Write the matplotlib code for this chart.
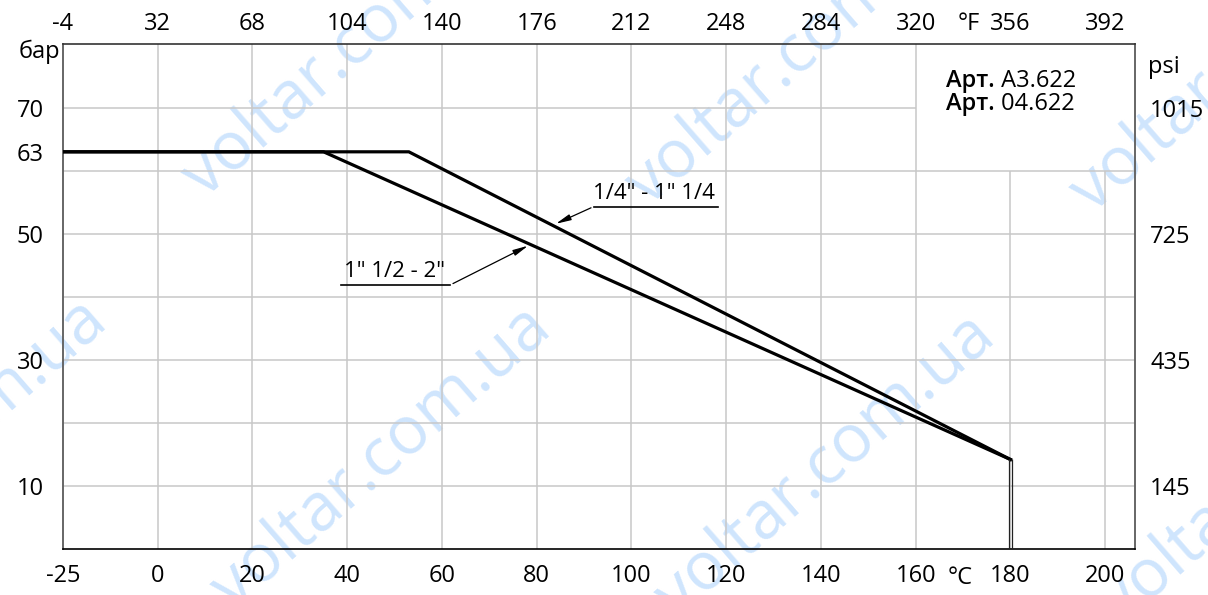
import matplotlib
matplotlib.use("Agg")
import matplotlib.pyplot as plt

plt.rcParams['font.family'] = ['Open Sans', 'DejaVu Sans']

# temperature (°C) vs pressure (bar)
temp_small = [-20, 53, 180]      # 1/4" - 1" 1/4
pres_small = [63, 63, 14.2]
temp_big = [-20, 35, 180]        # 1" 1/2 - 2"
pres_big = [63, 63, 14.2]
end_temp = 180
end_pres = 14.2

x_ticks = [-20, 0, 20, 40, 60, 80, 100, 120, 140, 160, 180, 200]
x_labels = ['-25', '0', '20', '40', '60', '80', '100', '120', '140', '160', '180', '200']
f_labels = ['-4', '32', '68', '104', '140', '176', '212', '248', '284', '320', '356', '392']
y_ticks = [10, 30, 50, 63, 70]
y_labels = ['10', '30', '50', '63', '70']
psi_ticks = [10, 30, 50, 70]
psi_labels = ['145', '435', '725', '1015']
grid_x = [0, 20, 40, 60, 80, 100, 120, 140, 160, 180, 200]
grid_y = [10, 20, 30, 40, 50, 60, 70]

xmin, xmax = -20, 206.3
ymin, ymax = 0, 80.1

fig = plt.figure(figsize=(12.08, 5.95), dpi=100)

# watermark
wm_pos = [(234, 612), (678, 620), (1122, 627), (-210, 605),
          (205, 200), (649, 208), (1093, 215)]
for px, py in wm_pos:
    fig.text(px / 1208, 1 - py / 595, 'voltar.com.ua', fontsize=48, color='#cfe5fd',
             rotation=41, rotation_mode='anchor', ha='left', va='baseline', zorder=-5)

ax = fig.add_axes([63 / 1208, 1 - 549 / 595, (1135 - 63) / 1208, (549 - 44) / 595])
ax.patch.set_alpha(0)
ax.set_xlim(xmin, xmax)
ax.set_ylim(ymin, ymax)

# grid, leaving the corner box empty
grid_c = '#c8c8c8'
for gy in grid_y:
    ax.hlines(gy, xmin, 160 if gy > 60 else xmax, color=grid_c, lw=1.1, zorder=1)
for gx in grid_x:
    ax.vlines(gx, ymin, 60 if gx > 160 else ymax, color=grid_c, lw=1.1, zorder=1)

ax.plot(temp_small, pres_small, color='black', lw=2.3, zorder=3, solid_joinstyle='miter')
ax.plot(temp_big, pres_big, color='black', lw=2.3, zorder=3, solid_joinstyle='miter')
ax.vlines([end_temp - 0.25, end_temp + 0.25], 0, end_pres, color='#222222', lw=0.9, zorder=3)

for s in ['left', 'right']:
    ax.spines[s].set_color('#666666')
    ax.spines[s].set_linewidth(1.4)
ax.spines['bottom'].set_color('black')
ax.spines['bottom'].set_linewidth(1.2)
ax.spines['top'].set_color('#333333')
ax.spines['top'].set_linewidth(1.2)

ax.set_xticks(x_ticks)
ax.set_xticklabels(x_labels)
ax.set_yticks(y_ticks)
ax.set_yticklabels(y_labels)
ax.tick_params(axis='x', length=0, pad=11, labelsize=17)
ax.tick_params(axis='y', length=0, pad=14, labelsize=17)

ax_top = ax.twiny()
ax_top.set_xlim(xmin, xmax)
ax_top.set_xticks(x_ticks)
ax_top.set_xticklabels(f_labels)
ax_top.tick_params(axis='x', length=0, pad=6, labelsize=17)

ax_r = ax.twinx()
ax_r.set_ylim(ymin, ymax)
ax_r.set_yticks(psi_ticks)
ax_r.set_yticklabels(psi_labels)
ax_r.tick_params(axis='y', length=0, pad=11, labelsize=17)
for a in [ax_top, ax_r]:
    for s in a.spines.values():
        s.set_visible(False)

# unit labels
ax.text(-20, 78.8, 'бар', fontsize=17, ha='right', va='center',
        transform=ax.transData + matplotlib.transforms.ScaledTranslation(-3 / 100, 0, fig.dpi_scale_trans))
ax.text(xmax, 76.4, 'psi', fontsize=17, ha='left', va='center',
        transform=ax.transData + matplotlib.transforms.ScaledTranslation(13 / 100, 0, fig.dpi_scale_trans))
ax.text(169.3, -5.6, '°C', fontsize=17, ha='center', va='baseline', clip_on=False)
ax.text(171.2, 82.3, '°F', fontsize=17, ha='center', va='baseline', clip_on=False)

# article box
t1 = ax.text(166.4, 73.3, 'Арт.', fontsize=17, fontweight='semibold', ha='left', va='baseline')
ax.annotate(' A3.622', xy=(1, 0), xycoords=t1, fontsize=17, ha='left', va='bottom')
t2 = ax.text(166.4, 69.6, 'Арт.', fontsize=17, fontweight='semibold', ha='left', va='baseline')
ax.annotate(' 04.622', xy=(1, 0), xycoords=t2, fontsize=17, ha='left', va='bottom')

# leader annotations
lbl1_x0, lbl1_x1, lbl1_y = 92, 118.3, 54.3
ax.plot([lbl1_x0, lbl1_x1], [lbl1_y, lbl1_y], color='black', lw=1.2, zorder=3)
ax.text(lbl1_x0 - 0.2, lbl1_y + 0.4, '1/4" - 1" 1/4', fontsize=16, ha='left', va='bottom')
ax.annotate('', xy=(83.5, 51.4), xytext=(lbl1_x0, lbl1_y),
            arrowprops=dict(arrowstyle='-|>,head_length=0.9,head_width=0.18', color='black', lw=0.9))

lbl2_x0, lbl2_x1, lbl2_y = 38.6, 61.8, 41.9
ax.plot([lbl2_x0, lbl2_x1], [lbl2_y, lbl2_y], color='black', lw=1.2, zorder=3)
ax.text(lbl2_x0 + 0.8, lbl2_y + 0.4, '1" 1/2 - 2"', fontsize=16, ha='left', va='bottom')
ax.annotate('', xy=(78.7, 48.3), xytext=(lbl2_x1, lbl2_y),
            arrowprops=dict(arrowstyle='-|>,head_length=0.9,head_width=0.18', color='black', lw=0.9))

fig.savefig('out.png', dpi=100)
